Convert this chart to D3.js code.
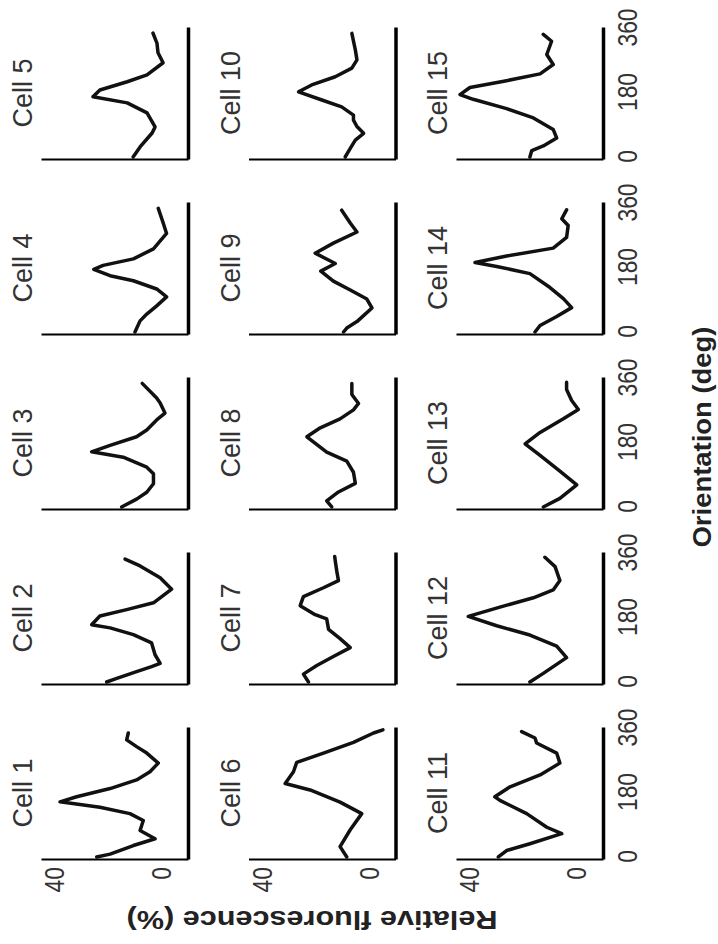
<!DOCTYPE html>
<html>
<head>
<meta charset="utf-8">
<script src="https://cdn.jsdelivr.net/npm/d3@7"></script>
<style>
    body { margin: 0; background: #fff; }
    text { font-family: "Liberation Sans", Arial, sans-serif; }
</style>
</head>
<body>
<div id="chart"></div>
<script>
// [orientation (deg), relative fluorescence (%)]
var cell1 = [[0,24.4],[8,19.4],[32,10.7],[51,2.6],[74,8.2],[102,7.0],[121,12],[139,23.2],[154,38.1],[168,31.9],[191,19.4],[215,9.5],[238,4.5],[262,1.4],[290,5.7],[308,9.5],[327,13.2],[346,12.6]];
var cell2 = [[0,20.7],[10,16.9],[29,9.5],[43,3.9],[52,0.7],[76,2.6],[109,3.9],[132,10.7],[151,19.4],[160,26.3],[184,23.2],[202,13.2],[221,3.2],[259,-3.6],[291,0.7],[324,8.2],[343,13.8]];
var cell3 = [[0,15.1],[22,9.5],[41,5.7],[65,3.2],[93,3.2],[111,5.7],[139,14.5],[154,26.3],[172,19.4],[196,9.5],[215,5.7],[243,2.0],[262,-1.1],[290,0.7],[304,2.0],[345,7.4]];
var cell4 = [[0,10.1],[31,8.2],[50,5.7],[73,2.0],[98,-1.7],[120,2.0],[143,10.7],[157,19.4],[175,25.5],[186,22],[204,10.7],[232,3.2],[275,-1.7],[303,-0.5],[345,1.4]];
var cell5 = [[0,10.8],[28,8.2],[67,3.7],[84,2.6],[123,5.6],[151,13],[168,25.8],[187,23.2],[210,13],[229,5.6],[263,-0.4],[291,1.5],[318,1.9],[346,3.4]];
var cell6 = [[0,8.5],[29,11],[76,7.2],[121,2.9],[153,11],[187,22.2],[205,31.5],[238,28.4],[264,27.2],[290,17.2],[320,6.0],[346,-1.5],[355,-5]];
var cell7 = [[0,22.8],[22,24.7],[46,19.7],[71,13.5],[96,7.2],[121,11],[147,15.3],[176,16],[188,20.3],[213,25.9],[238,24.7],[263,17.2],[283,11.6],[308,12.2],[338,12.8],[350,13]];
var cell8 = [[0,14.1],[17,16],[42,11.6],[66,5.3],[97,6.0],[128,8.5],[153,16],[196,23.4],[221,18.4],[246,11],[271,6.0],[289,4.1],[314,6.6],[345,6.6]];
var cell9 = [[0,9.7],[11,8.5],[29,4.7],[67,-0.9],[92,1.0],[117,7.2],[142,13.5],[170,18.2],[191,12.8],[220,20.3],[248,13.5],[279,4.7],[304,7.2],[340,10.4]];
var cell10 = [[0,9.1],[24,7.2],[47,5.3],[66,2.2],[85,4.7],[103,6.0],[117,6.0],[140,10.4],[159,17.8],[182,26.5],[201,21.6],[224,12.8],[248,6.6],[271,4.7],[299,5.3],[345,6.6]];
var cell11 = [[0,29.4],[18,26.3],[37,17.6],[65,5.7],[83,11.3],[121,18.8],[158,28.8],[168,30.7],[196,25],[229,13.8],[262,6.4],[290,7.6],[318,15.1],[332,15.7],[350,20.7]];
var cell12 = [[0,17.6],[24,12.6],[68,3.9],[100,7.6],[131,17.6],[157,30],[183,40.6],[209,28.8],[235,16.3],[257,8.9],[283,6.4],[322,8.2],[348,12]];
var cell13 = [[0,12.6],[24,6.4],[62,0.1],[100,6.4],[144,13.8],[176,19.4],[208,13.8],[246,5.1],[272,-0.5],[297,2.0],[328,3.9],[348,3.9]];
var cell14 = [[0,15.7],[18,13.8],[43,7.6],[68,2.0],[93,5.1],[124,10.1],[163,17.6],[183,30],[194,38.1],[212,26.3],[234,8.9],[264,3.9],[297,3.3],[316,5.7],[341,3.9]];
var cell15 = [[0,17.6],[18,16.9],[31,12.6],[53,7.6],[77,8.9],[109,16.3],[135,26.3],[161,38.8],[174,43.7],[194,40],[213,26.3],[232,13.8],[258,8.9],[286,11.3],[323,9.5],[342,12.6]];

var cells = [cell1, cell2, cell3, cell4, cell5, cell6, cell7, cell8, cell9, cell10, cell11, cell12, cell13, cell14, cell15];
var cellLabels = ["Cell 1", "Cell 2", "Cell 3", "Cell 4", "Cell 5", "Cell 6", "Cell 7", "Cell 8",
    "Cell 9", "Cell 10", "Cell 11", "Cell 12", "Cell 13", "Cell 14", "Cell 15"];
var yTicks = [0, 40];
var xTicks = [0, 180, 360];

var width = 718,
    height = 944;

var svg = d3.select("#chart").append("svg")
    .attr("width", width)
    .attr("height", height);

// the figure is laid out landscape (5 cols x 3 rows) and then turned a quarter turn
var fig = svg.append("g")
    .attr("transform", "translate(0," + height + ") rotate(-90)");

var panelW = 132,
    panelH = 147;

cells.forEach(function(data, i) {
    var row = Math.floor(i / 5),
        col = i % 5;
    var x0 = 84 + col * 175;
    var yBase = 188 + row * 207.5;

    var x = d3.scaleLinear().domain([-8.4, 360]).range([x0, x0 + panelW]);
    var y = d3.scaleLinear().domain([-9.7, 45.2]).range([yBase, yBase - panelH]);

    var g = fig.append("g");

    // y axis (fluorescence), labels only on first panel of each row
    var yAxis = g.append("g")
        .attr("transform", "translate(" + x0 + ",0)")
        .call(d3.axisLeft(y).tickValues(col == 0 ? yTicks : []).tickSize(0).tickSizeOuter(0).tickPadding(7));
    yAxis.select(".domain").attr("stroke", "#000").attr("stroke-width", 2);

    // x axis (orientation), labels only on bottom row
    var xAxis = g.append("g")
        .attr("transform", "translate(0," + yBase + ")")
        .call(d3.axisBottom(x).tickValues(row == 2 ? xTicks : []).tickSize(0).tickSizeOuter(0).tickPadding(15));
    xAxis.select(".domain").attr("stroke", "#000").attr("stroke-width", 3.5);

    g.selectAll(".tick text")
        .attr("font-family", "Liberation Sans, Arial, sans-serif")
        .attr("font-size", 27)
        .attr("fill", "#333")
        .attr("textLength", function(d) { return String(d).length * 12.7; })
        .attr("lengthAdjust", "spacingAndGlyphs");

    var line = d3.line()
        .x(function(d) { return x(d[0]); })
        .y(function(d) { return y(d[1]); });

    g.append("path")
        .datum(data)
        .attr("d", line)
        .attr("fill", "none")
        .attr("stroke", "#111")
        .attr("stroke-width", 3.5)
        .attr("stroke-linejoin", "round")
        .attr("stroke-linecap", "round");

    g.append("text")
        .attr("x", x0 + 67)
        .attr("y", yBase - panelH - 9)
        .attr("text-anchor", "middle")
        .attr("font-size", 27)
        .attr("fill", "#333")
        .text(cellLabels[i]);
});

// axis titles
fig.append("text")
    .attr("transform", "translate(33,312) rotate(-90)")
    .attr("text-anchor", "middle")
    .attr("font-size", 25)
    .attr("font-weight", "bold")
    .attr("fill", "#222")
    .attr("textLength", 371)
    .attr("lengthAdjust", "spacingAndGlyphs")
    .text("Relative fluorescence (%)");

fig.append("text")
    .attr("x", 507)
    .attr("y", 711)
    .attr("text-anchor", "middle")
    .attr("font-size", 25)
    .attr("font-weight", "bold")
    .attr("fill", "#222")
    .attr("textLength", 221)
    .attr("lengthAdjust", "spacingAndGlyphs")
    .text("Orientation (deg)");
</script>
</body>
</html>
